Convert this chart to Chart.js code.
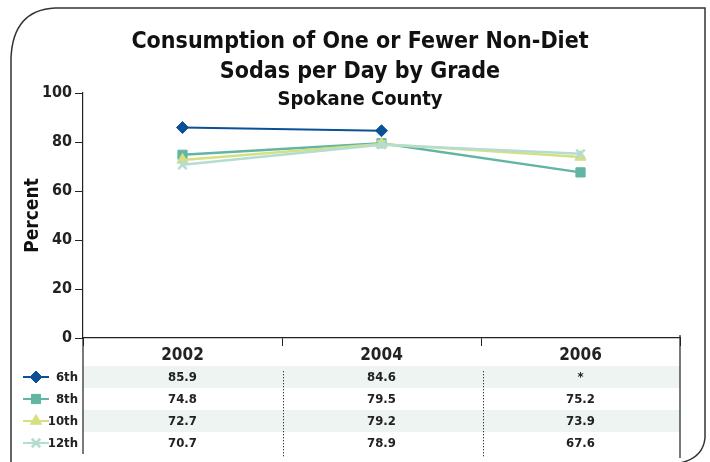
<!DOCTYPE html>
<html>
<head>
<meta charset="utf-8">
<script src="https://cdn.jsdelivr.net/npm/chart.js@4.4.1/dist/chart.umd.min.js"></script>
<style>
  body { margin: 0; background: #fff; }
  #wrap { width: 710px; height: 462px; }
</style>
</head>
<body>
<div id="wrap"><canvas id="myChart" width="710" height="462"></canvas></div>
<script>
// data
var years = ['2002', '2004', '2006'];
var grades = ['6th', '8th', '10th', '12th'];
var sixth = [85.9, 84.6, null];
var eighth = [74.8, 79.5, 67.6];
var tenth = [72.7, 79.2, 73.9];
var twelfth = [70.7, 78.9, 75.2];
// numbers printed in the table under the chart
var sixthText = ['85.9', '84.6', '*'];
var eighthText = ['74.8', '79.5', '75.2'];
var tenthText = ['72.7', '79.2', '73.9'];
var twelfthText = ['70.7', '78.9', '67.6'];
var yTicks = [0, 20, 40, 60, 80, 100];

var colors = ['#0b5196', '#62b5a2', '#d6e081', '#b4dcd1'];
var shapes = ['rectRot', 'rect', 'triangle', 'crossRot'];
var sizes = [6, 6.5, 6.5, 6];
var tableText = [sixthText, eighthText, tenthText, twelfthText];
var FONT = '"Liberation Sans Narrow", "DejaVu Sans Condensed", sans-serif';

var rowTop = 366, rowH = 22;

var framePlugin = {
  id: 'frame',
  beforeDraw: function(chart) {
    var ctx = chart.ctx;
    var left = chart.chartArea.left, right = 680;
    ctx.save();
    // outer rounded frame
    ctx.strokeStyle = '#333';
    ctx.lineWidth = 1.5;
    ctx.beginPath();
    ctx.moveTo(11, 462);
    ctx.lineTo(11, 58);
    ctx.quadraticCurveTo(13, 10, 55, 8);
    ctx.lineTo(705, 8);
    ctx.lineTo(705, 438);
    ctx.quadraticCurveTo(703, 458, 680, 463);
    ctx.stroke();
    // shaded rows
    ctx.fillStyle = '#edf4f1';
    for (var r = 0; r < grades.length; r += 2) {
      ctx.fillRect(left, rowTop + r * rowH, right - left, rowH);
    }
    ctx.restore();
  },
  afterDraw: function(chart) {
    var ctx = chart.ctx;
    var xs = chart.scales.x;
    var area = chart.chartArea;
    ctx.save();
    // titles
    ctx.fillStyle = '#111';
    ctx.textAlign = 'center';
    ctx.textBaseline = 'middle';
    ctx.font = 'bold 23px ' + FONT;
    ctx.fillText('Consumption of One or Fewer Non-Diet', 360, 42);
    ctx.fillText('Sodas per Day by Grade', 360, 72);
    ctx.font = 'bold 20px ' + FONT;
    ctx.fillText('Spokane County', 360, 100);

    // table frame lines
    ctx.strokeStyle = '#222';
    ctx.lineWidth = 1.2;
    ctx.beginPath();
    ctx.moveTo(area.left, area.bottom);
    ctx.lineTo(area.left, 454);
    ctx.moveTo(680, area.bottom - 3);
    ctx.lineTo(680, 458);
    ctx.stroke();

    // dotted separators
    ctx.fillStyle = '#333';
    [283, 483].forEach(function(x) {
      for (var y = 371; y < 458; y += 3) ctx.fillRect(x, y, 1, 1.3);
    });

    // rows: legend + values
    for (var r = 0; r < grades.length; r++) {
      var cy = rowTop + r * rowH + rowH / 2;
      ctx.strokeStyle = colors[r];
      ctx.fillStyle = colors[r];
      ctx.lineWidth = 2;
      ctx.beginPath();
      ctx.moveTo(23, cy);
      ctx.lineTo(49, cy);
      ctx.stroke();
      ctx.lineWidth = r == 3 ? 2.5 : 1;
      Chart.helpers.drawPoint(ctx, {
        pointStyle: shapes[r], radius: sizes[r], borderWidth: ctx.lineWidth,
        rotation: 0
      }, 36, cy);
      ctx.fillStyle = '#222';
      ctx.font = 'bold 13px ' + FONT;
      ctx.textAlign = 'right';
      ctx.fillText(grades[r], 78, cy + 1);
      ctx.textAlign = 'center';
      for (var c = 0; c < years.length; c++) {
        ctx.fillText(tableText[r][c], xs.getPixelForValue(c), cy + 1);
      }
    }
    ctx.restore();
  }
};

var data = {
  labels: years,
  datasets: [sixth, eighth, tenth, twelfth].map(function(vals, i) {
    return {
      label: grades[i],
      data: vals,
      borderColor: colors[i],
      backgroundColor: colors[i],
      pointStyle: shapes[i],
      pointRadius: sizes[i],
      pointBorderWidth: i == 3 ? 2.5 : 1,
      borderWidth: i == 0 ? 2 : 2.5,
      spanGaps: false,
      tension: 0
    };
  }).reverse()
};

var config = {
  type: 'line',
  data: data,
  options: {
    responsive: false,
    animation: false,
    events: [],
    layout: { padding: { top: 93, left: 0, right: 30, bottom: 0 } },
    plugins: {
      legend: { display: false },
      title: { display: false },
      tooltip: { enabled: false }
    },
    scales: {
      x: {
        offset: true,
        grid: {
          offset: true, drawOnChartArea: false, tickLength: 8,
          color: '#222', tickColor: '#222'
        },
        border: { color: '#222', width: 1.2 },
        ticks: {
          color: '#222', padding: -1,
          font: { family: FONT, size: 17, weight: 'bold' }
        },
        afterFit: function(scale) { scale.height = 124; }
      },
      y: {
        min: 0, max: 100,
        afterBuildTicks: function(scale) {
          scale.ticks = yTicks.map(function(v) { return { value: v }; });
        },
        grid: {
          drawOnChartArea: false, tickLength: 8,
          color: '#222', tickColor: '#222'
        },
        border: { color: '#222', width: 1.2 },
        ticks: {
          color: '#222', padding: 3,
          font: { family: FONT, size: 16, weight: 'bold' }
        },
        title: {
          display: true, text: 'Percent', color: '#111',
          padding: { top: 22, bottom: 0 },
          font: { family: FONT, size: 19, weight: 'bold' }
        },
        afterFit: function(scale) { scale.width = 83; }
      }
    }
  },
  plugins: [framePlugin]
};

try {
  var chartExist = Chart.getChart('myChart');
  if (chartExist != undefined) chartExist.destroy();
} catch (e) {
  console.log(e);
}

var myChart = new Chart(document.getElementById('myChart'), config);
</script>
</body>
</html>
